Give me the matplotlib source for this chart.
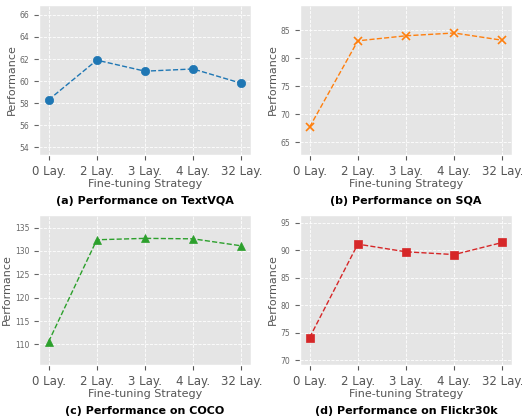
import matplotlib.pyplot as plt

plt.style.use('ggplot')

strategies = ['0 Lay.', '2 Lay.', '3 Lay.', '4 Lay.', '32 Lay.']
textvqa = [58.3, 61.9, 60.9, 61.1, 59.8]
sqa = [67.7, 83.1, 84.0, 84.5, 83.2]
coco = [110.6, 132.4, 132.7, 132.6, 131.1]
flickr = [74.1, 91.1, 89.7, 89.2, 91.4]

panels = [
    (textvqa, 'o', 'tab:blue', '(a) Performance on TextVQA'),
    (sqa, 'x', 'tab:orange', '(b) Performance on SQA'),
    (coco, '^', 'tab:green', '(c) Performance on COCO'),
    (flickr, 's', 'tab:red', '(d) Performance on Flickr30k'),
]

W, H = 522, 419
fig = plt.figure(figsize=(W / 100, H / 100), dpi=100)

lefts = [39, 300]
bottoms = [155, 365]
title_y = [201, 411]

for i, (vals, marker, color, title) in enumerate(panels):
    r, c = divmod(i, 2)
    ax = fig.add_axes([lefts[c] / W, 1 - bottoms[r] / H, 212 / W, 150 / H])
    x = range(len(strategies))
    ax.plot(x, vals, linestyle='--', marker=marker, color=color,
            linewidth=1, markersize=6, markeredgewidth=1.2 if marker == 'x' else 0.5)
    # y range padded by 5 around the data
    ax.set_ylim(min(vals) - 5, max(vals) + 5)
    ax.set_xticks(list(x))
    ax.set_xticklabels(strategies, fontsize=8.5, color='#555555')
    ax.tick_params(axis='y', labelsize=5.5, colors='#666666')
    ax.tick_params(axis='x', colors='#555555')
    ax.grid(True, color='white', linestyle='--', linewidth=0.6)
    ax.set_xlabel('Fine-tuning Strategy', fontsize=8, color='#555555', labelpad=1)
    ax.set_ylabel('Performance', fontsize=8, color='#555555', labelpad=2)
    fig.text((lefts[c] + 106) / W, 1 - title_y[r] / H, title,
             ha='center', va='center', fontsize=8, fontweight='bold')

fig.savefig('out.png', dpi=100)
